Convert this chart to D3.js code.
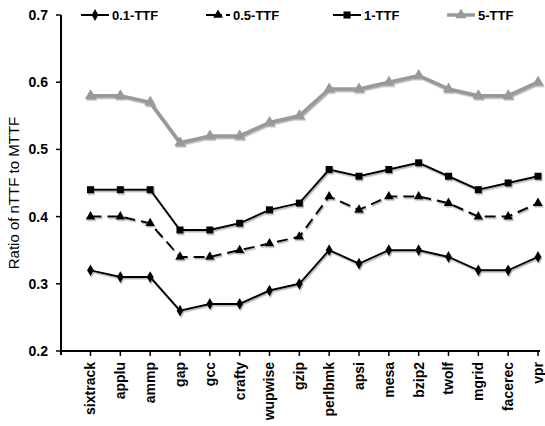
<!DOCTYPE html>
<html>
<head>
<meta charset="utf-8">
<script src="https://cdn.jsdelivr.net/npm/d3@7"></script>
<style>
body { margin: 0; background: #fff; }
text { font-family: "Liberation Sans", Arial, sans-serif; }
</style>
</head>
<body>
<div id="chartArea"></div>
<script>
// benchmarks on the x axis
const categories = ["sixtrack", "applu", "ammp", "gap", "gcc", "crafty", "wupwise", "gzip",
  "perlbmk", "apsi", "mesa", "bzip2", "twolf", "mgrid", "facerec", "vpr"];

const ttf01 = [0.32, 0.31, 0.31, 0.26, 0.27, 0.27, 0.29, 0.30, 0.35, 0.33, 0.35, 0.35, 0.34, 0.32, 0.32, 0.34];
const ttf05 = [0.40, 0.40, 0.39, 0.34, 0.34, 0.35, 0.36, 0.37, 0.43, 0.41, 0.43, 0.43, 0.42, 0.40, 0.40, 0.42];
const ttf1  = [0.44, 0.44, 0.44, 0.38, 0.38, 0.39, 0.41, 0.42, 0.47, 0.46, 0.47, 0.48, 0.46, 0.44, 0.45, 0.46];
const ttf5  = [0.58, 0.58, 0.57, 0.51, 0.52, 0.52, 0.54, 0.55, 0.59, 0.59, 0.60, 0.61, 0.59, 0.58, 0.58, 0.60];

const seriesNames = ["0.1-TTF", "0.5-TTF", "1-TTF", "5-TTF"];
const yTicks = [0.2, 0.3, 0.4, 0.5, 0.6, 0.7];

const W = 545, H = 426;
const axisX = 61, axisY = 351, axisTop = 15, axisRight = 540;

const svg = d3.select("#chartArea").append("svg")
  .attr("width", W).attr("height", H);

const defs = svg.append("defs");
defs.append("filter").attr("id", "shadow")
  .attr("x", "-20%").attr("y", "-20%").attr("width", "140%").attr("height", "140%")
  .append("feDropShadow")
  .attr("dx", 1).attr("dy", 1.5).attr("stdDeviation", 0.6)
  .attr("flood-color", "#777").attr("flood-opacity", 0.55);

const x = d3.scalePoint().domain(categories).range([90.5, 538]);
const y = d3.scaleLinear().domain([0.2, 0.7]).range([axisY, axisTop]);

const styles = [
  { data: ttf01, color: "#000", width: 2, dash: null, marker: d3.symbolDiamond, size: 40 },
  { data: ttf05, color: "#000", width: 2, dash: "11,6", marker: d3.symbolTriangle, size: 40 },
  { data: ttf1,  color: "#000", width: 2, dash: null, marker: d3.symbolSquare, size: 50 },
  { data: ttf5,  color: "#999", width: 3.5, dash: null, marker: d3.symbolTriangle, size: 55 }
];

// axes
const gy = svg.append("g").attr("transform", `translate(${axisX},0)`);
gy.append("line").attr("x1", 0).attr("x2", 0).attr("y1", axisTop).attr("y2", axisY + 4)
  .attr("stroke", "#000").attr("stroke-width", 2);
yTicks.forEach(t => {
  gy.append("line").attr("x1", -5).attr("x2", 0).attr("y1", y(t)).attr("y2", y(t))
    .attr("stroke", "#000").attr("stroke-width", 1.5);
  gy.append("text").attr("x", -13).attr("y", y(t)).attr("dy", "0.35em")
    .attr("text-anchor", "end").style("font-size", "14px").style("font-weight", "bold")
    .text(t.toFixed(1));
});

const gx = svg.append("g");
gx.append("line").attr("x1", axisX).attr("x2", axisRight).attr("y1", axisY).attr("y2", axisY)
  .attr("stroke", "#000").attr("stroke-width", 2);
categories.forEach(c => {
  gx.append("line").attr("x1", x(c)).attr("x2", x(c)).attr("y1", axisY).attr("y2", axisY + 5)
    .attr("stroke", "#000").attr("stroke-width", 1.5);
  gx.append("text")
    .attr("transform", `translate(${x(c)},${axisY + 11}) rotate(-90)`)
    .attr("dy", "0.35em").attr("text-anchor", "end")
    .style("font-size", "14px").style("font-weight", "bold")
    .text(c);
});

svg.append("text")
  .attr("transform", `translate(14,${(axisTop + axisY) / 2 + 10}) rotate(-90)`)
  .attr("dy", "0.35em").attr("text-anchor", "middle")
  .style("font-size", "15px")
  .text("Ratio of nTTF to MTTF");

// lines
const line = d3.line().x((d, i) => x(categories[i])).y(d => y(d));

styles.forEach(s => {
  const g = svg.append("g").attr("filter", "url(#shadow)");
  g.append("path").datum(s.data).attr("d", line)
    .attr("fill", "none").attr("stroke", s.color).attr("stroke-width", s.width)
    .attr("stroke-dasharray", s.dash);
  g.selectAll("path.m").data(s.data).enter().append("path").attr("class", "m")
    .attr("d", d3.symbol().type(s.marker).size(s.size))
    .attr("transform", (d, i) => `translate(${x(categories[i])},${y(d)})`)
    .attr("fill", s.color);
});

// legend
const legendX = [81, 206, 333, 447];
styles.forEach((s, i) => {
  const g = svg.append("g").attr("transform", `translate(${legendX[i]},15)`);
  g.append("line").attr("x1", 0).attr("x2", i === 1 ? 24 : 28).attr("y1", 0).attr("y2", 0)
    .attr("stroke", s.color).attr("stroke-width", s.width)
    .attr("stroke-dasharray", i === 1 ? "16,4" : null);
  g.append("path").attr("d", d3.symbol().type(s.marker).size(s.size))
    .attr("transform", `translate(${i === 1 ? 12 : 14},0)`).attr("fill", s.color);
  g.append("text").attr("x", i === 1 ? 27 : 31).attr("y", 0).attr("dy", "0.35em")
    .style("font-size", "13px").style("font-weight", "bold")
    .text(seriesNames[i]);
});
</script>
</body>
</html>
